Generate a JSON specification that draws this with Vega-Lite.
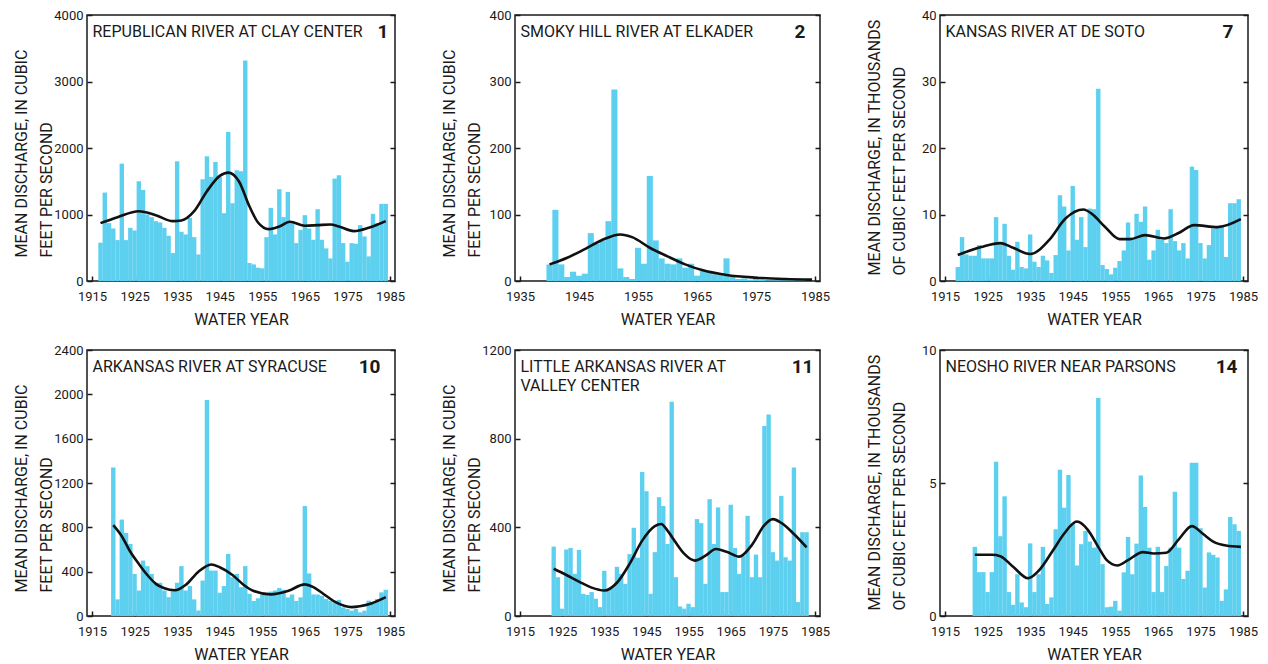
{
  "$schema": "https://vega.github.io/schema/vega-lite/v6.json",
  "background": "white",
  "padding": {"left": 12, "top": 8, "right": 5, "bottom": 5},
  "bounds": "flush",
  "align": "each",
  "columns": 3,
  "spacing": {"row": 69, "column": 120},
  "concat": [
    {
      "width": 308, "height": 266,
      "layer": [
        {"data": {"name": "p1"}, "mark": {"type": "bar", "width": 4.4, "color": "#5DD0F0"},
         "encoding": {
           "x": {"field": "year", "type": "quantitative", "scale": {"domain": [1915, 1985], "nice": false, "zero": false},
                 "axis": {"orient": "bottom", "values": [1915, 1925, 1935, 1945, 1955, 1965, 1975, 1985], "format": "d", "title": "WATER YEAR"}},
           "y": {"field": "discharge", "type": "quantitative", "scale": {"domain": [0, 4000], "nice": false},
                 "axis": {"orient": "left", "values": [0, 1000, 2000, 3000, 4000], "format": "d", "title": ["MEAN DISCHARGE, IN CUBIC", "FEET PER SECOND"], "titleY": 242}}}},
        {"data": {"name": "p1s"}, "mark": {"type": "line", "color": "#111111", "strokeWidth": 2.6, "interpolate": "monotone"},
         "encoding": {
           "x": {"field": "year", "type": "quantitative", "scale": {"domain": [1915, 1985], "nice": false, "zero": false},
                 "axis": {"orient": "top", "title": "REPUBLICAN RIVER AT CLAY CENTER"}},
           "y": {"field": "discharge", "type": "quantitative", "scale": {"domain": [0, 4000], "nice": false},
                 "axis": {"orient": "right", "values": [0, 1000, 2000, 3000, 4000], "title": "1", "titleX": -7}}}}
      ],
      "resolve": {"axis": {"x": "independent", "y": "independent"}}
    },
    {
      "width": 305, "height": 266,
      "layer": [
        {"data": {"name": "p2"}, "mark": {"type": "bar", "width": 6.1, "color": "#5DD0F0"},
         "encoding": {
           "x": {"field": "year", "type": "quantitative", "scale": {"domain": [1935, 1985], "nice": false, "zero": false},
                 "axis": {"orient": "bottom", "values": [1935, 1945, 1955, 1965, 1975, 1985], "format": "d", "title": "WATER YEAR"}},
           "y": {"field": "discharge", "type": "quantitative", "scale": {"domain": [0, 400], "nice": false},
                 "axis": {"orient": "left", "values": [0, 100, 200, 300, 400], "format": "d", "title": ["MEAN DISCHARGE, IN CUBIC", "FEET PER SECOND"], "titleY": 242}}}},
        {"data": {"name": "p2s"}, "mark": {"type": "line", "color": "#111111", "strokeWidth": 2.6, "interpolate": "monotone"},
         "encoding": {
           "x": {"field": "year", "type": "quantitative", "scale": {"domain": [1935, 1985], "nice": false, "zero": false},
                 "axis": {"orient": "top", "title": "SMOKY HILL RIVER AT ELKADER"}},
           "y": {"field": "discharge", "type": "quantitative", "scale": {"domain": [0, 400], "nice": false},
                 "axis": {"orient": "right", "values": [0, 100, 200, 300, 400], "title": "2", "titleX": -15}}}}
      ],
      "resolve": {"axis": {"x": "independent", "y": "independent"}}
    },
    {
      "width": 308, "height": 266,
      "layer": [
        {"data": {"name": "p3"}, "mark": {"type": "bar", "width": 4.4, "color": "#5DD0F0"},
         "encoding": {
           "x": {"field": "year", "type": "quantitative", "scale": {"domain": [1915, 1985], "nice": false, "zero": false},
                 "axis": {"orient": "bottom", "values": [1915, 1925, 1935, 1945, 1955, 1965, 1975, 1985], "format": "d", "title": "WATER YEAR"}},
           "y": {"field": "discharge", "type": "quantitative", "scale": {"domain": [0, 40], "nice": false},
                 "axis": {"orient": "left", "values": [0, 10, 20, 30, 40], "format": "d", "title": ["MEAN DISCHARGE, IN THOUSANDS", "OF CUBIC FEET PER SECOND"], "titleY": 260}}}},
        {"data": {"name": "p3s"}, "mark": {"type": "line", "color": "#111111", "strokeWidth": 2.6, "interpolate": "monotone"},
         "encoding": {
           "x": {"field": "year", "type": "quantitative", "scale": {"domain": [1915, 1985], "nice": false, "zero": false},
                 "axis": {"orient": "top", "title": "KANSAS RIVER AT DE SOTO"}},
           "y": {"field": "discharge", "type": "quantitative", "scale": {"domain": [0, 40], "nice": false},
                 "axis": {"orient": "right", "values": [0, 10, 20, 30, 40], "title": "7", "titleX": -15}}}}
      ],
      "resolve": {"axis": {"x": "independent", "y": "independent"}}
    },
    {
      "width": 308, "height": 266,
      "layer": [
        {"data": {"name": "p4"}, "mark": {"type": "bar", "width": 4.4, "color": "#5DD0F0"},
         "encoding": {
           "x": {"field": "year", "type": "quantitative", "scale": {"domain": [1915, 1985], "nice": false, "zero": false},
                 "axis": {"orient": "bottom", "values": [1915, 1925, 1935, 1945, 1955, 1965, 1975, 1985], "format": "d", "title": "WATER YEAR"}},
           "y": {"field": "discharge", "type": "quantitative", "scale": {"domain": [0, 2400], "nice": false},
                 "axis": {"orient": "left", "values": [0, 400, 800, 1200, 1600, 2000, 2400], "format": "d", "title": ["MEAN DISCHARGE, IN CUBIC", "FEET PER SECOND"], "titleY": 242}}}},
        {"data": {"name": "p4s"}, "mark": {"type": "line", "color": "#111111", "strokeWidth": 2.6, "interpolate": "monotone"},
         "encoding": {
           "x": {"field": "year", "type": "quantitative", "scale": {"domain": [1915, 1985], "nice": false, "zero": false},
                 "axis": {"orient": "top", "title": "ARKANSAS RIVER AT SYRACUSE"}},
           "y": {"field": "discharge", "type": "quantitative", "scale": {"domain": [0, 2400], "nice": false},
                 "axis": {"orient": "right", "values": [0, 400, 800, 1200, 1600, 2000, 2400], "title": "10", "titleX": -15}}}}
      ],
      "resolve": {"axis": {"x": "independent", "y": "independent"}}
    },
    {
      "width": 305, "height": 266,
      "layer": [
        {"data": {"name": "p5"}, "mark": {"type": "bar", "width": 4.36, "color": "#5DD0F0"},
         "encoding": {
           "x": {"field": "year", "type": "quantitative", "scale": {"domain": [1915, 1985], "nice": false, "zero": false},
                 "axis": {"orient": "bottom", "values": [1915, 1925, 1935, 1945, 1955, 1965, 1975, 1985], "format": "d", "title": "WATER YEAR"}},
           "y": {"field": "discharge", "type": "quantitative", "scale": {"domain": [0, 1200], "nice": false},
                 "axis": {"orient": "left", "values": [0, 400, 800, 1200], "format": "d", "title": ["MEAN DISCHARGE, IN CUBIC", "FEET PER SECOND"], "titleY": 242}}}},
        {"data": {"name": "p5s"}, "mark": {"type": "line", "color": "#111111", "strokeWidth": 2.6, "interpolate": "monotone"},
         "encoding": {
           "x": {"field": "year", "type": "quantitative", "scale": {"domain": [1915, 1985], "nice": false, "zero": false},
                 "axis": {"orient": "top", "title": ["LITTLE ARKANSAS RIVER AT", "VALLEY CENTER"]}},
           "y": {"field": "discharge", "type": "quantitative", "scale": {"domain": [0, 1200], "nice": false},
                 "axis": {"orient": "right", "values": [0, 400, 800, 1200], "title": "11", "titleX": -7}}}}
      ],
      "resolve": {"axis": {"x": "independent", "y": "independent"}}
    },
    {
      "width": 308, "height": 266,
      "layer": [
        {"data": {"name": "p6"}, "mark": {"type": "bar", "width": 4.4, "color": "#5DD0F0"},
         "encoding": {
           "x": {"field": "year", "type": "quantitative", "scale": {"domain": [1915, 1985], "nice": false, "zero": false},
                 "axis": {"orient": "bottom", "values": [1915, 1925, 1935, 1945, 1955, 1965, 1975, 1985], "format": "d", "title": "WATER YEAR"}},
           "y": {"field": "discharge", "type": "quantitative", "scale": {"domain": [0, 10], "nice": false},
                 "axis": {"orient": "left", "values": [0, 5, 10], "format": "d", "title": ["MEAN DISCHARGE, IN THOUSANDS", "OF CUBIC FEET PER SECOND"], "titleY": 260}}}},
        {"data": {"name": "p6s"}, "mark": {"type": "line", "color": "#111111", "strokeWidth": 2.6, "interpolate": "monotone"},
         "encoding": {
           "x": {"field": "year", "type": "quantitative", "scale": {"domain": [1915, 1985], "nice": false, "zero": false},
                 "axis": {"orient": "top", "title": "NEOSHO RIVER NEAR PARSONS"}},
           "y": {"field": "discharge", "type": "quantitative", "scale": {"domain": [0, 10], "nice": false},
                 "axis": {"orient": "right", "values": [0, 5, 10], "title": "14", "titleX": -11}}}}
      ],
      "resolve": {"axis": {"x": "independent", "y": "independent"}}
    }
  ],
  "datasets": {
    "p1": [
      {"year":1917,"discharge":576},{"year":1918,"discharge":1330},{"year":1919,"discharge":870},{"year":1920,"discharge":790},{"year":1921,"discharge":615},
      {"year":1922,"discharge":1765},{"year":1923,"discharge":615},{"year":1924,"discharge":800},{"year":1925,"discharge":760},{"year":1926,"discharge":1500},
      {"year":1927,"discharge":1370},{"year":1928,"discharge":1000},{"year":1929,"discharge":960},{"year":1930,"discharge":900},{"year":1931,"discharge":880},
      {"year":1932,"discharge":800},{"year":1933,"discharge":680},{"year":1934,"discharge":420},{"year":1935,"discharge":1800},{"year":1936,"discharge":740},
      {"year":1937,"discharge":700},{"year":1938,"discharge":950},{"year":1939,"discharge":660},{"year":1940,"discharge":400},{"year":1941,"discharge":1530},
      {"year":1942,"discharge":1875},{"year":1943,"discharge":1565},{"year":1944,"discharge":1790},{"year":1945,"discharge":1565},{"year":1946,"discharge":1020},
      {"year":1947,"discharge":2240},{"year":1948,"discharge":1170},{"year":1949,"discharge":1665},{"year":1950,"discharge":1650},{"year":1951,"discharge":3315},
      {"year":1952,"discharge":270},{"year":1953,"discharge":250},{"year":1954,"discharge":200},{"year":1955,"discharge":190},{"year":1956,"discharge":660},
      {"year":1957,"discharge":1100},{"year":1958,"discharge":700},{"year":1959,"discharge":1380},{"year":1960,"discharge":960},{"year":1961,"discharge":1340},
      {"year":1962,"discharge":870},{"year":1963,"discharge":570},{"year":1964,"discharge":770},{"year":1965,"discharge":990},{"year":1966,"discharge":790},
      {"year":1967,"discharge":620},{"year":1968,"discharge":1080},{"year":1969,"discharge":620},{"year":1970,"discharge":490},{"year":1971,"discharge":340},
      {"year":1972,"discharge":1540},{"year":1973,"discharge":1590},{"year":1974,"discharge":570},{"year":1975,"discharge":290},{"year":1976,"discharge":570},
      {"year":1977,"discharge":560},{"year":1978,"discharge":840},{"year":1979,"discharge":670},{"year":1980,"discharge":370},{"year":1981,"discharge":1010},
      {"year":1982,"discharge":870},{"year":1983,"discharge":1160},{"year":1984,"discharge":1160}
    ],
    "p1s": [
      {"year":1917,"discharge":870},{"year":1921,"discharge":960},{"year":1926,"discharge":1050},{"year":1930,"discharge":990},{"year":1934,"discharge":900},
      {"year":1936,"discharge":910},{"year":1939,"discharge":1050},{"year":1942,"discharge":1350},{"year":1945,"discharge":1580},{"year":1947,"discharge":1630},
      {"year":1949.5,"discharge":1500},{"year":1952,"discharge":1120},{"year":1954,"discharge":880},{"year":1956.5,"discharge":780},{"year":1959,"discharge":820},
      {"year":1961.5,"discharge":890},{"year":1965,"discharge":830},{"year":1968,"discharge":840},{"year":1971,"discharge":850},{"year":1973,"discharge":820},
      {"year":1976.5,"discharge":750},{"year":1980,"discharge":800},{"year":1984,"discharge":900}
    ],
    "p2": [
      {"year":1940,"discharge":25},{"year":1941,"discharge":107},{"year":1942,"discharge":25},{"year":1943,"discharge":6},{"year":1944,"discharge":14},
      {"year":1945,"discharge":8},{"year":1946,"discharge":11},{"year":1947,"discharge":72},{"year":1948,"discharge":56},{"year":1949,"discharge":61},
      {"year":1950,"discharge":90},{"year":1951,"discharge":288},{"year":1952,"discharge":19},{"year":1953,"discharge":6},{"year":1954,"discharge":3},
      {"year":1955,"discharge":50},{"year":1956,"discharge":26},{"year":1957,"discharge":158},{"year":1958,"discharge":61},{"year":1959,"discharge":34},
      {"year":1960,"discharge":26},{"year":1961,"discharge":25},{"year":1962,"discharge":34},{"year":1963,"discharge":20},{"year":1964,"discharge":26},
      {"year":1965,"discharge":8},{"year":1966,"discharge":15},{"year":1967,"discharge":15},{"year":1968,"discharge":10},{"year":1969,"discharge":12},
      {"year":1970,"discharge":34},{"year":1971,"discharge":6},{"year":1972,"discharge":3},{"year":1973,"discharge":4},{"year":1974,"discharge":2},
      {"year":1975,"discharge":3},{"year":1976,"discharge":2},{"year":1977,"discharge":1},{"year":1978,"discharge":1},{"year":1979,"discharge":1},
      {"year":1980,"discharge":1},{"year":1981,"discharge":2},{"year":1982,"discharge":1},{"year":1983,"discharge":1}
    ],
    "p2s": [
      {"year":1940,"discharge":25},{"year":1943,"discharge":35},{"year":1946,"discharge":48},{"year":1949,"discharge":62},{"year":1952,"discharge":70},
      {"year":1954,"discharge":66},{"year":1957,"discharge":50},{"year":1960,"discharge":37},{"year":1963,"discharge":25},{"year":1966,"discharge":16},
      {"year":1970,"discharge":9},{"year":1975,"discharge":5},{"year":1980,"discharge":3},{"year":1984.5,"discharge":2}
    ],
    "p3": [
      {"year":1918,"discharge":2.1},{"year":1919,"discharge":6.6},{"year":1920,"discharge":4.0},{"year":1921,"discharge":3.8},{"year":1922,"discharge":3.8},
      {"year":1923,"discharge":5.4},{"year":1924,"discharge":3.4},{"year":1925,"discharge":3.4},{"year":1926,"discharge":3.4},{"year":1927,"discharge":9.6},
      {"year":1928,"discharge":5.7},{"year":1929,"discharge":8.6},{"year":1930,"discharge":3.8},{"year":1931,"discharge":1.7},{"year":1932,"discharge":5.9},
      {"year":1933,"discharge":2.1},{"year":1934,"discharge":1.9},{"year":1935,"discharge":7.0},{"year":1936,"discharge":2.9},{"year":1937,"discharge":2.1},
      {"year":1938,"discharge":3.8},{"year":1939,"discharge":3.1},{"year":1940,"discharge":1.2},{"year":1941,"discharge":3.9},{"year":1942,"discharge":12.9},
      {"year":1943,"discharge":11.2},{"year":1944,"discharge":4.6},{"year":1945,"discharge":14.3},{"year":1946,"discharge":6.2},{"year":1947,"discharge":9.6},
      {"year":1948,"discharge":5.1},{"year":1949,"discharge":10.9},{"year":1950,"discharge":10.8},{"year":1951,"discharge":28.9},{"year":1952,"discharge":2.4},
      {"year":1953,"discharge":1.8},{"year":1954,"discharge":1.0},{"year":1955,"discharge":2.0},{"year":1956,"discharge":3.0},{"year":1957,"discharge":4.6},
      {"year":1958,"discharge":8.8},{"year":1959,"discharge":6.2},{"year":1960,"discharge":10.1},{"year":1961,"discharge":8.9},{"year":1962,"discharge":11.2},
      {"year":1963,"discharge":3.2},{"year":1964,"discharge":4.6},{"year":1965,"discharge":7.7},{"year":1966,"discharge":6.2},{"year":1967,"discharge":5.7},
      {"year":1968,"discharge":10.8},{"year":1969,"discharge":6.0},{"year":1970,"discharge":4.6},{"year":1971,"discharge":5.7},{"year":1972,"discharge":3.4},
      {"year":1973,"discharge":17.2},{"year":1974,"discharge":16.7},{"year":1975,"discharge":5.7},{"year":1976,"discharge":3.4},{"year":1977,"discharge":5.4},
      {"year":1978,"discharge":7.9},{"year":1979,"discharge":8.0},{"year":1980,"discharge":8.4},{"year":1981,"discharge":3.6},{"year":1982,"discharge":11.7},
      {"year":1983,"discharge":11.7},{"year":1984,"discharge":12.3}
    ],
    "p3s": [
      {"year":1918,"discharge":3.9},{"year":1923.5,"discharge":5.1},{"year":1928,"discharge":5.7},{"year":1931,"discharge":5.0},{"year":1935,"discharge":4.05},
      {"year":1939.5,"discharge":6.2},{"year":1943.3,"discharge":9.4},{"year":1947.5,"discharge":10.75},{"year":1949.5,"discharge":10.1},{"year":1952.5,"discharge":8.2},
      {"year":1956,"discharge":6.3},{"year":1958.5,"discharge":6.3},{"year":1962,"discharge":6.9},{"year":1966.5,"discharge":6.4},{"year":1970,"discharge":7.25},
      {"year":1973.5,"discharge":8.4},{"year":1979,"discharge":8.1},{"year":1984.5,"discharge":9.3}
    ],
    "p4": [
      {"year":1920,"discharge":1340},{"year":1921,"discharge":150},{"year":1922,"discharge":870},{"year":1923,"discharge":750},{"year":1924,"discharge":650},
      {"year":1925,"discharge":380},{"year":1926,"discharge":230},{"year":1927,"discharge":500},{"year":1928,"discharge":450},{"year":1929,"discharge":380},
      {"year":1930,"discharge":300},{"year":1931,"discharge":300},{"year":1932,"discharge":230},{"year":1933,"discharge":170},{"year":1934,"discharge":230},
      {"year":1935,"discharge":300},{"year":1936,"discharge":450},{"year":1937,"discharge":230},{"year":1938,"discharge":270},{"year":1939,"discharge":150},
      {"year":1940,"discharge":50},{"year":1941,"discharge":320},{"year":1942,"discharge":1950},{"year":1943,"discharge":410},{"year":1944,"discharge":410},
      {"year":1945,"discharge":210},{"year":1946,"discharge":270},{"year":1947,"discharge":560},{"year":1948,"discharge":350},{"year":1949,"discharge":380},
      {"year":1950,"discharge":260},{"year":1951,"discharge":450},{"year":1952,"discharge":200},{"year":1953,"discharge":136},{"year":1954,"discharge":160},
      {"year":1955,"discharge":194},{"year":1956,"discharge":200},{"year":1957,"discharge":220},{"year":1958,"discharge":230},{"year":1959,"discharge":252},
      {"year":1960,"discharge":237},{"year":1961,"discharge":168},{"year":1962,"discharge":194},{"year":1963,"discharge":136},{"year":1964,"discharge":168},
      {"year":1965,"discharge":992},{"year":1966,"discharge":384},{"year":1967,"discharge":194},{"year":1968,"discharge":194},{"year":1969,"discharge":183},
      {"year":1970,"discharge":153},{"year":1971,"discharge":138},{"year":1972,"discharge":123},{"year":1973,"discharge":146},{"year":1974,"discharge":78},
      {"year":1975,"discharge":63},{"year":1976,"discharge":48},{"year":1977,"discharge":63},{"year":1978,"discharge":33},{"year":1979,"discharge":48},
      {"year":1980,"discharge":138},{"year":1981,"discharge":108},{"year":1982,"discharge":153},{"year":1983,"discharge":213},{"year":1984,"discharge":237}
    ],
    "p4s": [
      {"year":1920,"discharge":820},{"year":1922,"discharge":720},{"year":1924,"discharge":580},{"year":1926,"discharge":470},{"year":1928,"discharge":370},
      {"year":1930,"discharge":290},{"year":1932,"discharge":250},{"year":1934.5,"discharge":232},{"year":1937,"discharge":280},{"year":1940,"discharge":400},
      {"year":1943,"discharge":465},{"year":1945,"discharge":440},{"year":1948,"discharge":370},{"year":1950.5,"discharge":285},{"year":1953,"discharge":225},
      {"year":1957,"discharge":195},{"year":1961,"discharge":225},{"year":1965,"discharge":285},{"year":1967,"discharge":260},{"year":1969,"discharge":210},
      {"year":1972,"discharge":130},{"year":1976,"discharge":80},{"year":1980,"discharge":105},{"year":1984,"discharge":170}
    ],
    "p5": [
      {"year":1923,"discharge":313},{"year":1924,"discharge":175},{"year":1925,"discharge":33},{"year":1926,"discharge":300},{"year":1927,"discharge":307},
      {"year":1928,"discharge":190},{"year":1929,"discharge":298},{"year":1930,"discharge":100},{"year":1931,"discharge":95},{"year":1932,"discharge":108},
      {"year":1933,"discharge":78},{"year":1934,"discharge":40},{"year":1935,"discharge":204},{"year":1936,"discharge":123},{"year":1937,"discharge":130},
      {"year":1938,"discharge":222},{"year":1939,"discharge":190},{"year":1940,"discharge":145},{"year":1941,"discharge":279},{"year":1942,"discharge":398},
      {"year":1943,"discharge":263},{"year":1944,"discharge":650},{"year":1945,"discharge":563},{"year":1946,"discharge":100},{"year":1947,"discharge":288},
      {"year":1948,"discharge":536},{"year":1949,"discharge":496},{"year":1950,"discharge":325},{"year":1951,"discharge":966},{"year":1952,"discharge":175},
      {"year":1953,"discharge":43},{"year":1954,"discharge":33},{"year":1955,"discharge":55},{"year":1956,"discharge":40},{"year":1957,"discharge":437},
      {"year":1958,"discharge":419},{"year":1959,"discharge":145},{"year":1960,"discharge":527},{"year":1961,"discharge":325},{"year":1962,"discharge":490},
      {"year":1963,"discharge":108},{"year":1964,"discharge":108},{"year":1965,"discharge":502},{"year":1966,"discharge":307},{"year":1967,"discharge":190},
      {"year":1968,"discharge":272},{"year":1969,"discharge":452},{"year":1970,"discharge":175},{"year":1971,"discharge":277},{"year":1972,"discharge":175},
      {"year":1973,"discharge":857},{"year":1974,"discharge":909},{"year":1975,"discharge":288},{"year":1976,"discharge":250},{"year":1977,"discharge":542},
      {"year":1978,"discharge":265},{"year":1979,"discharge":250},{"year":1980,"discharge":670},{"year":1981,"discharge":63},{"year":1982,"discharge":378},
      {"year":1983,"discharge":378}
    ],
    "p5s": [
      {"year":1923,"discharge":213},{"year":1926,"discharge":185},{"year":1929,"discharge":155},{"year":1932,"discharge":128},{"year":1935,"discharge":115},
      {"year":1938,"discharge":150},{"year":1941,"discharge":235},{"year":1944,"discharge":340},{"year":1947,"discharge":405},{"year":1948.5,"discharge":415},
      {"year":1950,"discharge":385},{"year":1952,"discharge":330},{"year":1954,"discharge":280},{"year":1956.5,"discharge":250},{"year":1959,"discharge":272},
      {"year":1961.5,"discharge":302},{"year":1964,"discharge":290},{"year":1967,"discharge":268},{"year":1970,"discharge":320},{"year":1973,"discharge":410},
      {"year":1975,"discharge":437},{"year":1977,"discharge":420},{"year":1980,"discharge":370},{"year":1983,"discharge":310}
    ],
    "p6": [
      {"year":1922,"discharge":2.6},{"year":1923,"discharge":1.65},{"year":1924,"discharge":1.65},{"year":1925,"discharge":0.9},{"year":1926,"discharge":1.65},
      {"year":1927,"discharge":5.8},{"year":1928,"discharge":3.0},{"year":1929,"discharge":4.5},{"year":1930,"discharge":0.9},{"year":1931,"discharge":0.42},
      {"year":1932,"discharge":1.57},{"year":1933,"discharge":0.51},{"year":1934,"discharge":0.33},{"year":1935,"discharge":2.73},{"year":1936,"discharge":0.9},
      {"year":1937,"discharge":1.57},{"year":1938,"discharge":2.6},{"year":1939,"discharge":0.45},{"year":1940,"discharge":0.7},{"year":1941,"discharge":3.26},
      {"year":1942,"discharge":5.5},{"year":1943,"discharge":4.07},{"year":1944,"discharge":5.3},{"year":1945,"discharge":3.5},{"year":1946,"discharge":1.9},
      {"year":1947,"discharge":2.7},{"year":1948,"discharge":3.2},{"year":1949,"discharge":2.8},{"year":1950,"discharge":2.57},{"year":1951,"discharge":8.2},
      {"year":1952,"discharge":1.95},{"year":1953,"discharge":0.33},{"year":1954,"discharge":0.35},{"year":1955,"discharge":0.57},{"year":1956,"discharge":0.2},
      {"year":1957,"discharge":1.64},{"year":1958,"discharge":2.97},{"year":1959,"discharge":1.57},{"year":1960,"discharge":2.72},{"year":1961,"discharge":5.28},
      {"year":1962,"discharge":4.1},{"year":1963,"discharge":2.57},{"year":1964,"discharge":0.9},{"year":1965,"discharge":2.6},{"year":1966,"discharge":0.9},
      {"year":1967,"discharge":1.88},{"year":1968,"discharge":2.57},{"year":1969,"discharge":4.67},{"year":1970,"discharge":2.57},{"year":1971,"discharge":1.39},
      {"year":1972,"discharge":1.7},{"year":1973,"discharge":5.76},{"year":1974,"discharge":5.76},{"year":1975,"discharge":3.3},{"year":1976,"discharge":1.07},
      {"year":1977,"discharge":2.39},{"year":1978,"discharge":2.3},{"year":1979,"discharge":2.2},{"year":1980,"discharge":0.57},{"year":1981,"discharge":1.0},
      {"year":1982,"discharge":3.72},{"year":1983,"discharge":3.45},{"year":1984,"discharge":3.2}
    ],
    "p6s": [
      {"year":1922,"discharge":2.3},{"year":1926,"discharge":2.3},{"year":1928,"discharge":2.25},{"year":1931,"discharge":1.85},{"year":1934.5,"discharge":1.42},
      {"year":1937,"discharge":1.7},{"year":1940.5,"discharge":2.5},{"year":1943,"discharge":3.1},{"year":1946,"discharge":3.55},{"year":1948.5,"discharge":3.25},
      {"year":1951,"discharge":2.6},{"year":1953,"discharge":2.1},{"year":1955.5,"discharge":1.9},{"year":1958,"discharge":2.1},{"year":1961.5,"discharge":2.4},
      {"year":1964,"discharge":2.35},{"year":1967,"discharge":2.38},{"year":1970,"discharge":2.9},{"year":1973,"discharge":3.38},{"year":1975.5,"discharge":3.1},
      {"year":1978,"discharge":2.8},{"year":1981,"discharge":2.65},{"year":1984.5,"discharge":2.6}
    ]
  },
  "config": {
    "font": "Roboto",
    "view": {"stroke": "#1a1a1a", "strokeWidth": 1.5},
    "axis": {"grid": false, "domain": false, "tickColor": "#1a1a1a", "tickWidth": 1.5, "tickSize": -5,
             "labelFontSize": 13, "labelColor": "#1a1a1a", "titleColor": "#1a1a1a", "titleFontWeight": "normal",
             "labelFlush": false, "labelOverlap": false, "zindex": 1},
    "axisBottom": {"labelPadding": 14, "titleFontSize": 16, "titleY": 43, "titleBaseline": "alphabetic"},
    "axisLeft": {"labelPadding": 9, "titleFontSize": 16, "titleAngle": -90, "titleAlign": "left", "titleBaseline": "middle", "titleX": -66, "titleLineHeight": 25},
    "axisTop": {"ticks": false, "labels": false, "titleFontSize": 16, "titleAngle": 0, "titleAlign": "left", "titleBaseline": "alphabetic", "titleX": 5, "titleY": 21, "titleLineHeight": 19},
    "axisRight": {"labels": false, "titleFontSize": 19, "titleFontWeight": "bold", "titleAngle": 0, "titleAlign": "right", "titleBaseline": "alphabetic", "titleY": 22}
  }
}
